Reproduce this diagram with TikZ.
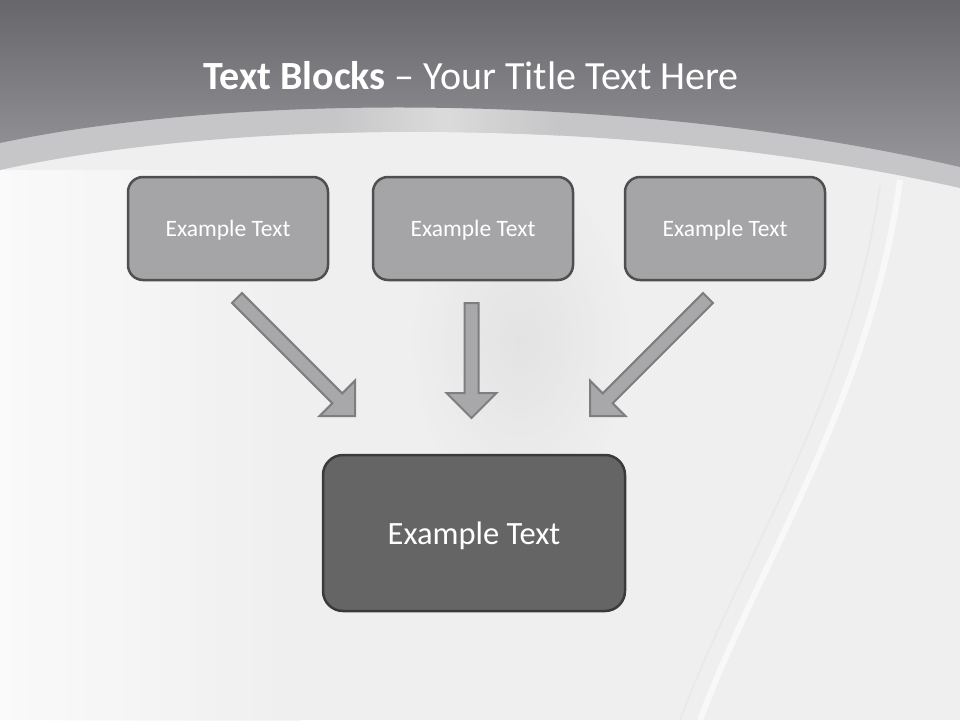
\documentclass[tikz,border=0pt]{standalone}
\usepackage{fontspec}
\setmainfont{Carlito}
\usetikzlibrary{calc}
\definecolor{topA}{HTML}{67676B}
\definecolor{topB}{HTML}{96969A}
\definecolor{bandc}{HTML}{C6C6C8}
\definecolor{bgc}{HTML}{EFEFEF}
\definecolor{smallfill}{HTML}{A5A5A7}
\definecolor{smallline}{HTML}{4F4F4F}
\definecolor{bigfill}{HTML}{656565}
\definecolor{bigline}{HTML}{3A3A3A}
\definecolor{arrfill}{HTML}{A8A8AA}
\definecolor{arrline}{HTML}{7E7E80}
\tikzset{
  smallbox/.style={draw=smallline, line width=2.5pt, fill=smallfill, rounded corners=15pt,
    minimum width=200pt, minimum height=103pt, text=white, font=\fontsize{23.5}{28}\selectfont, inner sep=0pt, text depth=0pt},
  bigbox/.style={draw=bigline, line width=2.5pt, fill=bigfill, rounded corners=20pt,
    minimum width=302pt, minimum height=156pt, text=white, font=\fontsize{32.5}{38}\selectfont, inner sep=0pt, text depth=0pt},
  blockarr/.style={draw=arrline, line width=2pt, fill=arrfill, line join=miter},
}
\newcommand\blockarrow[2]{%
  \coordinate (hb) at ($(#2)!25pt!(#1)$);
  \draw[blockarr] ($(#1)!7pt!90:(#2)$) -- ($(hb)!7pt!-90:(#1)$) -- ($(hb)!25pt!-90:(#1)$) -- (#2)
    -- ($(hb)!25pt!90:(#1)$) -- ($(hb)!7pt!90:(#1)$) -- ($(#1)!7pt!-90:(#2)$) -- cycle;}
\begin{document}
\begin{tikzpicture}[x=1pt,y=-1pt]
\useasboundingbox (0,0) rectangle (960,720);
% background
\fill[bgc] (0,0) rectangle (960,720);
\shade[inner color=black!14, outer color=bgc, opacity=0.6] (520,340) ellipse (110pt and 170pt);
\shade[left color=white, right color=bgc, opacity=0.7] (0,170) rectangle (300,720);
\draw[white, line width=6pt, opacity=0.6] (900,180) .. controls (870,400) and (760,560) .. (700,720);
\draw[black!10, line width=2pt, opacity=0.5] (880,185) .. controls (850,400) and (740,560) .. (680,720);
% band
\fill[bandc] (0,0) -- (0,170) .. controls (250,115) and (650,118) .. (960,188) -- (960,0) -- cycle;
\begin{scope}
\clip (0,0) -- (0,170) .. controls (250,115) and (650,118) .. (960,188) -- (960,0) -- cycle;
\shade[left color=bandc, right color=bandc, middle color=white!88!black, opacity=0.8]
  (330,90) rectangle (560,140);
\end{scope}
% top gradient
\shade[top color=topA, bottom color=topB] (0,0) -- (0,143) .. controls (250,90) and (650,95) .. (960,167) -- (960,0) -- cycle;
% title
\node[text=white, font=\fontsize{40}{48}\selectfont, anchor=base] (title) at (471,89)
  {\textbf{Text Blocks} – Your Title Text Here};
% boxes
\node[smallbox] (b1) at (228,228.5) {Example Text};
\node[smallbox] (b2) at (473,228.5) {Example Text};
\node[smallbox] (b3) at (725,228.5) {Example Text};
\node[bigbox] (main) at (474,533) {Example Text};
% arrows
\coordinate (t1) at (237,298); \coordinate (h1) at (355,416);
\coordinate (t2) at (471.5,303); \coordinate (h2) at (471.5,418);
\coordinate (t3) at (708,298); \coordinate (h3) at (590,416);
\blockarrow{t1}{h1}
\blockarrow{t2}{h2}
\blockarrow{t3}{h3}
\end{tikzpicture}
\end{document}
